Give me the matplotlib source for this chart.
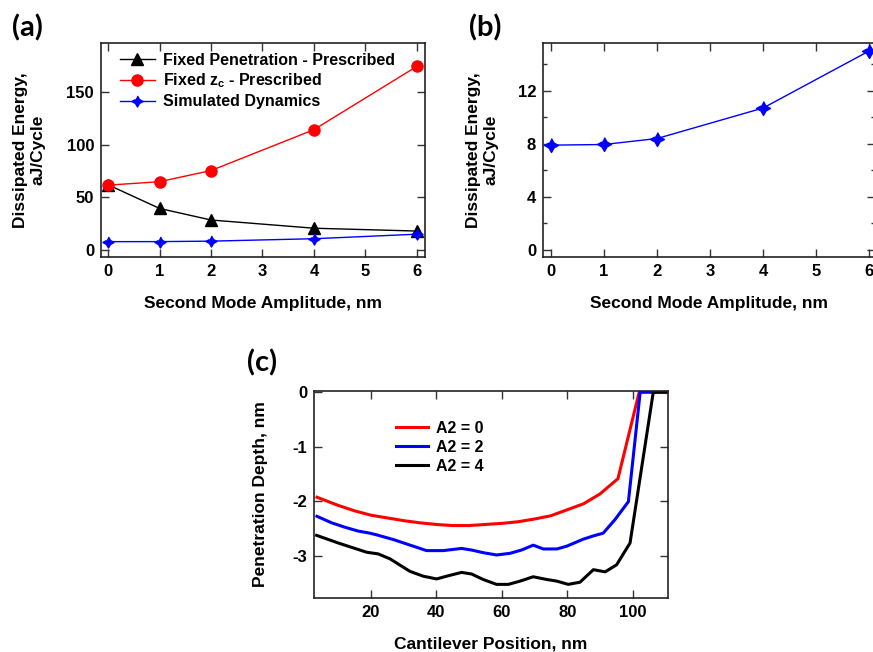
import matplotlib
matplotlib.use('Agg')
import matplotlib.pyplot as plt
import numpy as np

plt.rcParams['font.family'] = ['Liberation Sans', 'DejaVu Sans']
plt.rcParams['font.weight'] = 'bold'
plt.rcParams['axes.unicode_minus'] = False
plt.rcParams['mathtext.fontset'] = 'custom'
plt.rcParams['mathtext.rm'] = 'Liberation Sans:bold'
plt.rcParams['mathtext.it'] = 'Liberation Sans:bold'
plt.rcParams['mathtext.bf'] = 'Liberation Sans:bold'

# panel (a) / (b) data
amp = [0, 1, 2, 4, 6]
fixed_pen = [62, 39.5, 28.5, 20.7, 18]
fixed_zc = [61.7, 65, 75.6, 114.5, 174.7]
simulated = [7.9, 7.95, 8.4, 10.7, 15.0]

# panel (c) data
pos_a0 = [3.5, 10, 15, 20, 25, 30, 35, 40, 45, 50, 55, 60, 65, 70, 75, 80, 85, 90, 95.5, 102, 110.5]
dep_a0 = [-1.93, -2.08, -2.18, -2.26, -2.31, -2.36, -2.40, -2.43, -2.45, -2.45, -2.43, -2.41,
          -2.38, -2.33, -2.27, -2.16, -2.05, -1.87, -1.59, 0.0, 0.0]
pos_a2 = [3.5, 8, 12, 16, 19.7, 21.7, 27, 31, 37, 42.1, 47.7, 50.8, 54.5, 58.4, 62.5, 66, 69.6,
          72.7, 76.8, 79.8, 84.9, 88, 91, 94.6, 98.7, 102.3, 110.5]
dep_a2 = [-2.28, -2.40, -2.48, -2.55, -2.59, -2.62, -2.71, -2.79, -2.91, -2.91, -2.87, -2.90,
          -2.95, -2.99, -2.96, -2.90, -2.81, -2.88, -2.88, -2.83, -2.70, -2.64, -2.59, -2.34,
          -2.01, 0.0, 0.0]
pos_a4 = [3.4, 10, 18.7, 22.2, 25.8, 31.9, 36, 40.1, 43.1, 47.7, 50.8, 54.3, 58.4, 62, 65.6,
          69.6, 73.7, 76.8, 80.3, 83.9, 88, 91.6, 95.1, 99.2, 106.3, 110.5]
dep_a4 = [-2.63, -2.77, -2.94, -2.97, -3.06, -3.29, -3.38, -3.43, -3.38, -3.31, -3.34, -3.44,
          -3.53, -3.53, -3.47, -3.39, -3.44, -3.47, -3.53, -3.49, -3.26, -3.30, -3.17, -2.77,
          0.0, 0.0]

star = [(0, 1), (0.36, 0.36), (1, 0), (0.36, -0.36), (0, -1), (-0.36, -0.36), (-1, 0), (-0.36, 0.36)]

W, H = 873, 652
fig = plt.figure(figsize=(W / 100, H / 100), dpi=100)


def box(l, t, r, b):
    return [l / W, 1 - b / H, (r - l) / W, (b - t) / H]


def style(ax):
    for s in ax.spines.values():
        s.set_linewidth(1.2)
        s.set_color('#222222')
    ax.tick_params(direction='in', top=True, right=True, length=6, width=1,
                   labelsize=12, pad=5, color='#333333')
    for lab in ax.get_xticklabels() + ax.get_yticklabels():
        lab.set_fontweight('bold')


ax1 = fig.add_axes(box(101, 43, 425, 257))
ax1.plot(amp, fixed_pen, color='black', lw=1, marker='^', ms=8, label='Fixed Penetration - Prescribed')
ax1.plot(amp, fixed_zc, color='red', lw=1, marker='o', ms=8, label=r'Fixed $z_c$ - Prescribed')
ax1.plot(amp, simulated, color='blue', lw=1, marker=star, ms=8, label='Simulated Dynamics')
ax1.set_xlim(-0.14, 6.16)
ax1.set_ylim(-6.7, 197)
ax1.set_xticks([0, 1, 2, 3, 4, 5, 6])
ax1.set_yticks([0, 50, 100, 150])
style(ax1)
ax1.set_xlabel('Second Mode Amplitude, nm', fontsize=12.5, fontweight='bold')
ax1.set_ylabel('Dissipated Energy,\naJ/Cycle', fontsize=12.5, fontweight='bold')
ax1.xaxis.set_label_coords(0.5, -0.18)
ax1.yaxis.set_label_coords(-0.172, 0.5)
ax1.legend(loc='upper left', bbox_to_anchor=(0.058, 0.955), frameon=False,
           handlelength=2.2, handletextpad=0.5, labelspacing=0.25, borderaxespad=0, borderpad=0,
           prop={'weight': 'bold', 'size': 11.5})

ax2 = fig.add_axes(box(543, 43, 875, 257))
ax2.plot(amp, simulated, color='blue', lw=1, marker=star, ms=10)
ax2.set_xlim(-0.15, 6.11)
ax2.set_ylim(-0.53, 15.6)
ax2.set_xticks([0, 1, 2, 3, 4, 5, 6])
ax2.set_yticks([0, 4, 8, 12])
ax2.set_yticks([2, 6, 10, 14], minor=True)
style(ax2)
ax2.tick_params(which='minor', direction='in', right=True, length=3, width=1, color='#333333')
ax2.set_xlabel('Second Mode Amplitude, nm', fontsize=12.5, fontweight='bold')
ax2.set_ylabel('Dissipated Energy,\naJ/Cycle', fontsize=12.5, fontweight='bold')
ax2.xaxis.set_label_coords(0.5, -0.18)
ax2.yaxis.set_label_coords(-0.135, 0.5)

ax3 = fig.add_axes(box(314, 391, 668, 598))
ax3.plot(pos_a0, dep_a0, color='red', lw=2.2, label='A2 = 0')
ax3.plot(pos_a2, dep_a2, color='blue', lw=2.2, label='A2 = 2')
ax3.plot(pos_a4, dep_a4, color='black', lw=2.2, label='A2 = 4')
ax3.set_xlim(2.6, 110.8)
ax3.set_ylim(-3.78, 0.02)
ax3.set_xticks([20, 40, 60, 80, 100])
ax3.set_yticks([-3, -2, -1, 0])
style(ax3)
ax3.set_xlabel('Cantilever Position, nm', fontsize=12.5, fontweight='bold')
ax3.set_ylabel('Penetration Depth, nm', fontsize=12.5, fontweight='bold')
ax3.xaxis.set_label_coords(0.5, -0.185)
ax3.yaxis.set_label_coords(-0.13, 0.5)
ax3.legend(loc='upper left', bbox_to_anchor=(0.232, 0.855), frameon=False,
           handlelength=2.0, handletextpad=0.5, labelspacing=0.25, borderaxespad=0, borderpad=0,
           prop={'weight': 'bold', 'size': 11.5})

for txt, x, y in [('(a)', 12, 28), ('(b)', 469, 28), ('(c)', 247, 363)]:
    fig.text(x / W, 1 - y / H, txt, fontsize=21, fontweight='bold', family=['Lato', 'DejaVu Sans'],
             ha='left', va='center')

plt.savefig('out.png', dpi=100)
